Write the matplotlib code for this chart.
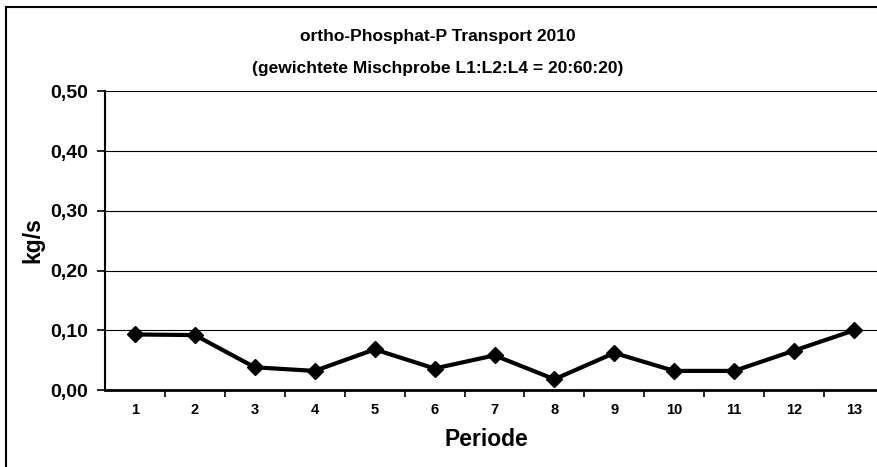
import numpy as np
import matplotlib
matplotlib.use("Agg")
import matplotlib.pyplot as plt
from matplotlib import font_manager
from matplotlib.patches import Rectangle
from matplotlib.ticker import FixedLocator, FuncFormatter

periode = list(range(1, 14))
kg_s = [0.093, 0.092, 0.038, 0.032, 0.068, 0.036, 0.058, 0.018, 0.062, 0.032, 0.032, 0.066, 0.100]
y_ticks = [0.0, 0.1, 0.2, 0.3, 0.4, 0.5]

plt.rcParams['font.family'] = ['Liberation Sans', 'DejaVu Sans']

# title is set in a condensed face in the original
names = {f.name for f in font_manager.fontManager.ttflist}
if 'Liberation Sans Narrow' in names:
    title_font, title_size = ['Liberation Sans Narrow', 'Liberation Sans'], 14.5
else:
    title_font, title_size = ['Liberation Sans', 'DejaVu Sans'], 12.5

W, H = 877, 467
fig = plt.figure(figsize=(W / 100, H / 100), dpi=100)

# outer chart border (right/bottom edge lies outside the picture)
fig.patches.append(Rectangle((6 / W, -0.1), 1.2, 1 - 7 / H + 0.1, transform=fig.transFigure,
                             fill=False, edgecolor='black', linewidth=1.5, zorder=0))

left, right, top, bottom = 105, 884, 91.5, 390
ax = fig.add_axes([left / W, 1 - bottom / H, (right - left) / W, (bottom - top) / H])

ax.plot(periode, kg_s, color='black', linewidth=3, marker='D', markersize=8.5, zorder=3)

ax.set_xlim(0.5, 13.5)
ax.set_ylim(0, 0.5)
ax.set_yticks(y_ticks)
ax.yaxis.set_major_formatter(FuncFormatter(lambda v, p: f"{v:.2f}".replace('.', ',')))
ax.set_xticks(periode)
ax.xaxis.set_minor_locator(FixedLocator(np.arange(1.5, 13.5, 1)))
ax.tick_params(axis='x', which='major', length=0, pad=9, labelsize=10.5)
ax.tick_params(axis='x', which='minor', length=5, direction='out', width=1.2)
ax.tick_params(axis='y', length=6, width=1.2, labelsize=14, pad=6)
for lab in ax.get_xticklabels() + ax.get_yticklabels():
    lab.set_fontweight('bold')

ax.grid(axis='y', color='black', linewidth=0.8)
ax.set_axisbelow(True)
for s in ['top', 'right']:
    ax.spines[s].set_visible(False)
ax.spines['left'].set_linewidth(1.5)
ax.spines['bottom'].set_linewidth(2)

fig.text(438 / W, 1 - 37 / H, "ortho-Phosphat-P Transport 2010", ha='center', va='center',
         fontsize=title_size, fontweight='bold', family=title_font)
fig.text(438 / W, 1 - 68 / H, "(gewichtete Mischprobe L1:L2:L4 = 20:60:20)", ha='center', va='center',
         fontsize=title_size, fontweight='bold', family=title_font)
fig.text(486 / W, 1 - 440 / H, "Periode", ha='center', va='center', fontsize=16.5, fontweight='bold')
fig.text(33 / W, 1 - 240 / H, "kg/s", ha='center', va='center', rotation=90, fontsize=16.5, fontweight='bold')

fig.savefig('out.png', dpi=100)
